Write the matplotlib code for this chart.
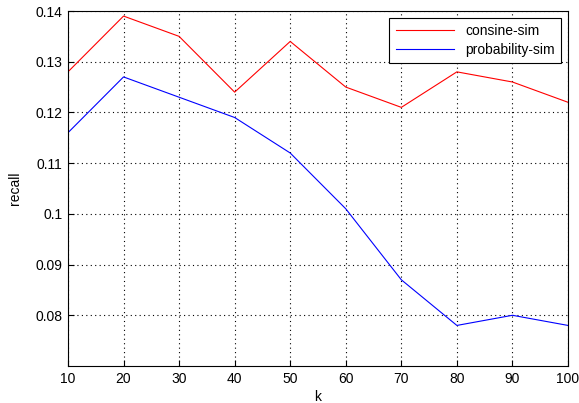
import matplotlib
matplotlib.use("Agg")
import matplotlib.pyplot as plt

plt.rcParams['font.family'] = ['Liberation Sans', 'DejaVu Sans']

k = [10, 20, 30, 40, 50, 60, 70, 80, 90, 100]
consine_sim = [0.128, 0.139, 0.135, 0.124, 0.134, 0.125, 0.121, 0.128, 0.126, 0.122]
probability_sim = [0.116, 0.127, 0.123, 0.119, 0.112, 0.101, 0.087, 0.078, 0.080, 0.078]
yticks = [0.08, 0.09, 0.1, 0.11, 0.12, 0.13, 0.14]
ytick_labels = ['0.08', '0.09', '0.1', '0.11', '0.12', '0.13', '0.14']

fig = plt.figure(figsize=(5.79, 4.03), dpi=100)
ax = fig.add_axes([0.1174, 0.0918, 0.8636, 0.8809])

ax.plot(k, consine_sim, color='red', linewidth=0.8, label='consine-sim')
ax.plot(k, probability_sim, color='blue', linewidth=0.8, label='probability-sim')

ax.set_xlim(10, 100)
ax.set_ylim(0.07, 0.14)
ax.set_xticks(k)
ax.set_yticks(yticks)
ax.set_yticklabels(ytick_labels)
ax.tick_params(direction='in', labelsize=10, length=4, pad=4)
ax.grid(True, linestyle=(0, (1, 3)), color='black', linewidth=0.8)
for s in ax.spines.values():
    s.set_linewidth(0.8)

ax.set_xlabel('k', fontsize=10, labelpad=3)
ax.set_ylabel('recall', fontsize=10, labelpad=10)

leg = ax.legend(loc='upper right', fontsize=10, fancybox=False, framealpha=1,
                edgecolor='black', handlelength=4.2, borderaxespad=0.5,
                borderpad=0.45, labelspacing=0.35)
leg.get_frame().set_linewidth(0.8)

fig.savefig('out.png', dpi=100)
